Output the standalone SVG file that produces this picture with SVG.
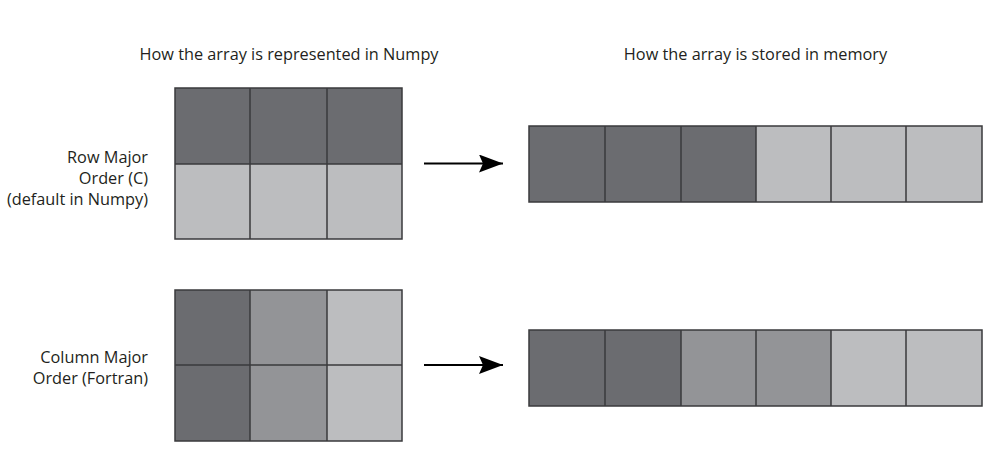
<svg xmlns="http://www.w3.org/2000/svg" width="995" height="466" viewBox="0 0 995 466">
<defs>
<style>
.t{font-family:"Open Sans","Liberation Sans",sans-serif;font-size:16.3px;fill:#231f20}
.d{fill:#6b6c70}
.m{fill:#939497}
.l{fill:#bcbdbf}
.g{stroke:#3a3a3c;stroke-width:1.5;fill:none}
.a{stroke:#000;stroke-width:2}
</style>
<marker id="ah" markerWidth="24" markerHeight="18" refX="24" refY="9" orient="auto" markerUnits="userSpaceOnUse" viewBox="0 0 24 18">
<path d="M0,0 L24,9 L0,18 L4,9 Z" fill="#000"/>
</marker>
</defs>
<rect width="995" height="466" fill="#fff"/>
<g id="titles">
<text class="t" x="289" y="60" text-anchor="middle">How the array is represented in Numpy</text>
<text class="t" x="755.5" y="60" text-anchor="middle">How the array is stored in memory</text>
</g>
<g id="label-row">
<text class="t" x="148" y="163" text-anchor="end">Row Major</text>
<text class="t" x="148" y="184" text-anchor="end">Order (C)</text>
<text class="t" x="148" y="205" text-anchor="end">(default in Numpy)</text>
</g>
<g id="label-col">
<text class="t" x="148" y="363" text-anchor="end">Column Major</text>
<text class="t" x="148" y="384" text-anchor="end">Order (Fortran)</text>
</g>
<g id="grid-row">
<rect class="d" x="175" y="88" width="227" height="76"/>
<rect class="l" x="175" y="164" width="227" height="75"/>
<rect class="g" x="175" y="88" width="227" height="151"/>
<path class="g" d="M250,88V239M327,88V239M175,164H402"/>
</g>
<g id="grid-col">
<rect class="d" x="175" y="290" width="75" height="151"/>
<rect class="m" x="250" y="290" width="77" height="151"/>
<rect class="l" x="327" y="290" width="75" height="151"/>
<rect class="g" x="175" y="290" width="227" height="151"/>
<path class="g" d="M250,290V441M327,290V441M175,365H402"/>
</g>
<g id="mem-row">
<rect class="d" x="529" y="126" width="227" height="76"/>
<rect class="l" x="756" y="126" width="226" height="76"/>
<rect class="g" x="529" y="126" width="453" height="76"/>
<path class="g" d="M605,126V202M681,126V202M756,126V202M831,126V202M906,126V202"/>
</g>
<g id="mem-col">
<rect class="d" x="529" y="330" width="152" height="76"/>
<rect class="m" x="681" y="330" width="150" height="76"/>
<rect class="l" x="831" y="330" width="151" height="76"/>
<rect class="g" x="529" y="330" width="453" height="76"/>
<path class="g" d="M605,330V406M681,330V406M756,330V406M831,330V406M906,330V406"/>
</g>
<g id="connectors">
<line class="a" x1="424" y1="163.5" x2="503" y2="163.5" marker-end="url(#ah)"/>
<line class="a" x1="424" y1="365" x2="503" y2="365" marker-end="url(#ah)"/>
</g>
</svg>
